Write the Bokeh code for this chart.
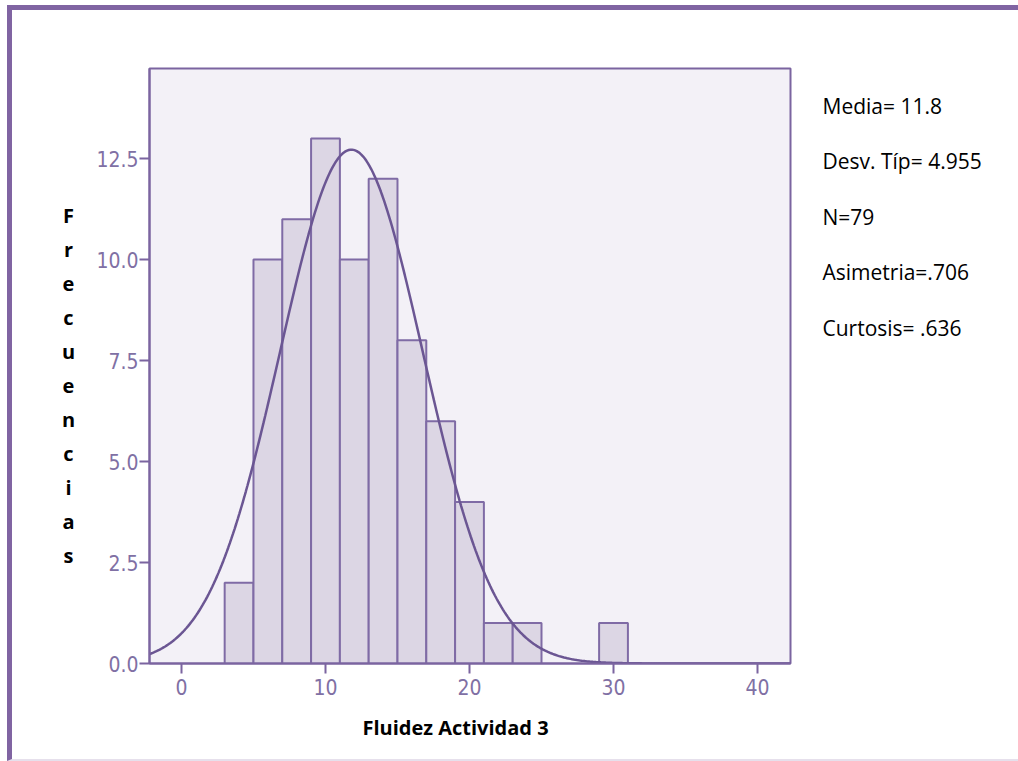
import numpy as np
from bokeh.plotting import figure
from bokeh.models import Range1d, FixedTicker, NumeralTickFormatter, Title
from bokeh.core.properties import value
from bokeh.layouts import row
from bokeh.embed import file_html
from bokeh.resources import INLINE

# ---- data ----
BIN_LEFT = [3, 5, 7, 9, 11, 13, 15, 17, 19, 21, 23, 29]
COUNTS = [2, 10, 11, 13, 10, 12, 8, 6, 4, 1, 1, 1]
BIN_WIDTH = 2
MEAN = 11.8
SD = 4.955
N = 79
X_TICKS = [0, 10, 20, 30, 40]
Y_TICKS = [0, 2.5, 5.0, 7.5, 10.0, 12.5]
STATS = ["Media= 11.8", "Desv. Típ= 4.955", "N=79", "Asimetria=.706", "Curtosis= .636"]
Y_TITLE = "Frecuencias"
X_TITLE = "Fluidez Actividad 3"

X_MIN, X_MAX = -2.22, 42.29
Y_MIN, Y_MAX = 0.0, 14.73

PURPLE = "#7B64A0"
TICK_COL = "#8070A4"
CAL = "Open Sans"
NARROW = "'Liberation Sans Narrow', 'DejaVu Sans Condensed', sans-serif"
H = 749
FRAME_TOP, FRAME_BOTTOM = 68, 663   # page pixels of the aligned plot frames


def side_fig(width):
    # side panels share the aligned frame; their y-range is expressed in page pixels
    f = figure(width=width, height=H, output_backend="svg", toolbar_location=None,
               x_range=Range1d(0, width), y_range=Range1d(FRAME_BOTTOM, FRAME_TOP),
               min_border=0, x_axis_location=None, y_axis_location=None)
    f.outline_line_color = None
    f.background_fill_color = "white"
    f.grid.visible = False
    return f


# ---- left panel: stacked y title ----
fl = side_fig(76)
fl.text(x=[56] * len(Y_TITLE), y=[215 + 34 * i for i in range(len(Y_TITLE))],
        text=list(Y_TITLE), text_font=value(CAL), text_font_size="20px",
        text_font_style="bold", text_color="black",
        text_align="center", text_baseline="middle")

# ---- main histogram ----
p = figure(width=704, height=H, output_backend="svg", toolbar_location=None,
           x_range=Range1d(X_MIN, X_MAX), y_range=Range1d(Y_MIN, Y_MAX),
           min_border_left=61, min_border_right=2, min_border_top=58, min_border_bottom=96)
p.background_fill_color = "#F3F1F7"
p.border_fill_color = "white"
p.outline_line_color = PURPLE
p.outline_line_width = 2
p.grid.visible = False

lefts = np.array(BIN_LEFT, dtype=float)
p.quad(left=lefts, right=lefts + BIN_WIDTH, bottom=0, top=COUNTS,
       fill_color="#DCD6E4", line_color="#7F6BA5", line_width=2)

# fitted normal curve (from reported mean / sd / N)
xs = np.linspace(X_MIN, X_MAX, 400)
ys = N * BIN_WIDTH / (SD * np.sqrt(2 * np.pi)) * np.exp(-0.5 * ((xs - MEAN) / SD) ** 2)
p.line(xs, ys, line_color="#6B5693", line_width=2.5)

for ax in (p.xaxis[0], p.yaxis[0]):
    ax.axis_line_color = PURPLE
    ax.axis_line_width = 2
    ax.major_tick_line_color = PURPLE
    ax.major_tick_line_width = 2
    ax.major_tick_in = 0
    ax.minor_tick_line_color = None
    ax.major_label_text_color = TICK_COL
    ax.major_label_text_font = NARROW
    ax.major_label_text_font_size = "21px"
p.xaxis.ticker = FixedTicker(ticks=X_TICKS)
p.yaxis.ticker = FixedTicker(ticks=Y_TICKS)
p.yaxis.formatter = NumeralTickFormatter(format="0.0")
p.xaxis.major_tick_out = 10
p.yaxis.major_tick_out = 10
p.xaxis.major_label_standoff = 5
p.yaxis.major_label_standoff = 1

p.add_layout(Title(text=X_TITLE, align="left", offset=213, standoff=29,
                   text_font=CAL, text_font_size="20px", text_font_style="bold",
                   text_color="black"), "below")

# ---- right panel: statistics ----
fr = side_fig(226)
fr.text(x=[30] * len(STATS), y=[105 + 55.5 * i for i in range(len(STATS))],
        text=STATS, text_font=value(CAL), text_font_size="21px",
        text_color="black", text_align="left", text_baseline="middle")

layout = row(fl, p, fr, spacing=0,
             styles={"margin-left": "7px", "margin-top": "5px",
                     "border-left": "5px solid #8064A2",
                     "border-top": "5px solid #8064A2",
                     "border-bottom": "2px solid #E6E0EC"})

open("out.html", "w").write(file_html(layout, INLINE))
